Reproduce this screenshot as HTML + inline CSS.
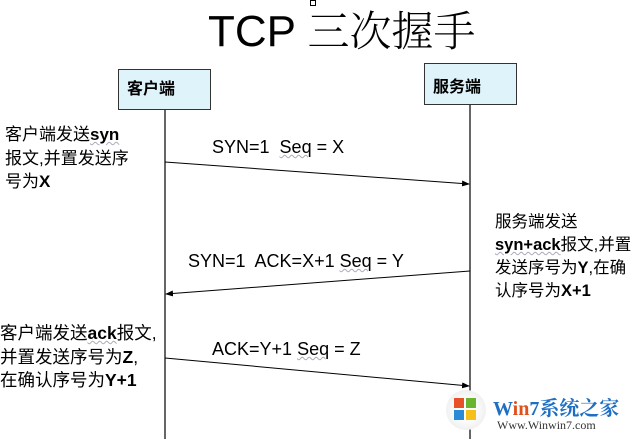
<!DOCTYPE html>
<html><head><meta charset="utf-8"><style>
body{margin:0;width:637px;height:439px;background:#fff;position:relative;overflow:hidden;font-family:"Liberation Sans","Noto Sans CJK SC",sans-serif;color:#000}
.t{position:absolute;white-space:nowrap}
.box{position:absolute;background:#dff3fb;border:1px solid #333;box-sizing:border-box;font-weight:bold;font-size:16px;line-height:1;padding-left:8px}
.lbl{font-size:17px;line-height:22px}
.u{text-decoration:underline wavy #aab;text-decoration-thickness:1px}
</style></head><body>
<div class="t" style="left:208px;top:5px;font-size:44px;line-height:48px">TCP <span style="font-family:'Noto Serif CJK SC','Noto Sans CJK SC',serif;font-weight:300;font-size:42px">三次握手</span></div>
<div style="position:absolute;left:310px;top:0;width:4px;height:4px;border:1px solid #000"></div>
<div class="box" style="left:118px;top:69px;width:93px;height:41px;padding-top:12px">客户端</div>
<div class="box" style="left:424px;top:63px;width:93px;height:42px;padding-top:16px">服务端</div>
<svg width="637" height="439" style="position:absolute;left:0;top:0">
<defs><marker id="a" markerWidth="8" markerHeight="6" refX="7" refY="3" orient="auto" markerUnits="userSpaceOnUse"><path d="M0,0L8,3L0,6z" fill="#000"/></marker></defs>
<line x1="165" y1="110" x2="165" y2="439" stroke="#000" stroke-width="1.2"/>
<line x1="470" y1="105" x2="470" y2="439" stroke="#000" stroke-width="1.2"/>
<line x1="165" y1="162" x2="469" y2="184" stroke="#000" marker-end="url(#a)"/>
<line x1="470" y1="271" x2="166" y2="294" stroke="#000" marker-end="url(#a)"/>
<line x1="165" y1="358" x2="469" y2="386" stroke="#000" marker-end="url(#a)"/>
</svg>
<div class="t lbl" style="left:212px;top:136px;font-size:18px">SYN=1&nbsp; <span class="u">Seq</span> = X</div>
<div class="t lbl" style="left:188px;top:250px;font-size:18px">SYN=1&nbsp; ACK=X+1 <span class="u">Seq</span> = Y</div>
<div class="t lbl" style="left:212px;top:338px;font-size:18px">ACK=Y+1 <span class="u">Seq</span> = Z</div>
<div class="t lbl" style="left:5px;top:123px;line-height:23.5px">客户端发送<b class="u">syn</b><br>报文,并置发送序<br>号为<b>X</b></div>
<div class="t lbl" style="left:495px;top:211px;line-height:23px;font-size:16.5px">服务端发送<br><b class="u">syn+ack</b>报文,并置<br>发送序号为<b>Y</b>,在确<br>认序号为<b>X+1</b></div>
<div class="t lbl" style="left:0px;top:322px;line-height:23.5px;font-size:17.5px">客户端发送<b class="u">ack</b>报文,<br>并置发送序号为<b>Z</b>,<br>在确认序号为<b>Y+1</b></div>
<div style="position:absolute;left:446px;top:390px;width:40px;height:40px;border-radius:50%;background:radial-gradient(circle,#fff 30%,#e6e6e6 100%)"></div>
<div style="position:absolute;left:454px;top:398px;width:10px;height:10px;background:#e8502a"></div>
<div style="position:absolute;left:466px;top:398px;width:10px;height:10px;background:#6bb52e"></div>
<div style="position:absolute;left:454px;top:410px;width:10px;height:10px;background:#2a8ad8"></div>
<div style="position:absolute;left:466px;top:410px;width:10px;height:10px;background:#f5c01a"></div>
<div class="t" style="left:493px;top:392px;font-size:20px;font-weight:bold;font-family:'Liberation Serif','Noto Serif CJK SC',serif;color:#1e6fc4">W<span style="color:#e0501c">in</span>7<span style="color:#1e6fc4">系统之家</span></div>
<div class="t" style="left:497px;top:418px;font-size:12px;font-family:'Liberation Serif',serif;color:#333">Www.Winwin7.com</div>
</body></html>
